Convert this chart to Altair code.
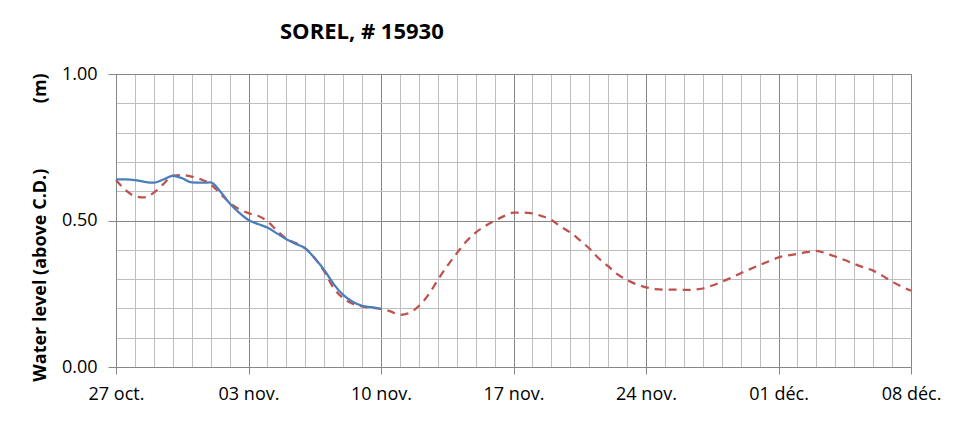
import json
import altair as alt
import pandas as pd

# ---- data ----
x_labels = ["27 oct.", "03 nov.", "10 nov.", "17 nov.", "24 nov.", "01 déc.", "08 déc."]

observed_days = [i * 0.5 for i in range(29)]          # 27 oct. .. 10 nov.
observed_values = [0.640, 0.640, 0.638, 0.632, 0.629, 0.640, 0.652, 0.644, 0.630,
                   0.629, 0.630, 0.600, 0.559, 0.527, 0.502, 0.488, 0.476, 0.456,
                   0.436, 0.420, 0.405, 0.371, 0.331, 0.283, 0.246, 0.223, 0.209,
                   0.204, 0.199]

predicted_days = [i * 0.5 for i in range(85)]         # 27 oct. .. 08 déc.
predicted_values = [0.638, 0.604, 0.583, 0.579, 0.595, 0.624, 0.653, 0.655, 0.650,
                    0.640, 0.624, 0.592, 0.561, 0.539, 0.525, 0.516, 0.497, 0.466,
                    0.438, 0.423, 0.405, 0.371, 0.326, 0.269, 0.235, 0.216, 0.207,
                    0.202, 0.198, 0.190, 0.178, 0.185, 0.208, 0.246, 0.297, 0.345,
                    0.388, 0.428, 0.459, 0.481, 0.499, 0.515, 0.527, 0.527, 0.524,
                    0.515, 0.502, 0.479, 0.459, 0.433, 0.405, 0.371, 0.344, 0.316,
                    0.297, 0.282, 0.272, 0.266, 0.264, 0.264, 0.263, 0.264, 0.268,
                    0.278, 0.291, 0.305, 0.320, 0.334, 0.348, 0.361, 0.374, 0.381,
                    0.386, 0.392, 0.396, 0.388, 0.377, 0.365, 0.352, 0.340, 0.329,
                    0.311, 0.291, 0.275, 0.260]

x_grid_values = list(range(43))
y_grid_values = [0.0, 0.1, 0.2, 0.3, 0.4, 0.5, 0.6, 0.7, 0.8, 0.9, 1.0]

obs = pd.DataFrame({"day": observed_days, "level": observed_values})
pred = pd.DataFrame({"day": predicted_days, "level": predicted_values})

MAJOR = "#868686"
MINOR = "#BEBEBE"
FONT = "Open Sans"

x_major = "datum.value % 7 === 0"
y_major = "round(datum.value * 10) % 5 === 0"

x_enc = alt.X(
    "day:Q",
    scale=alt.Scale(domain=[0, 42], nice=False, zero=False),
    axis=alt.Axis(
        title=None,
        values=x_grid_values,
        labelExpr=f"{x_major} ? {json.dumps(x_labels, ensure_ascii=False)}[datum.value / 7] : ''",
        gridColor={"condition": {"test": x_major, "value": MAJOR}, "value": MINOR},
        tickOpacity={"condition": {"test": x_major, "value": 1}, "value": 0},
        tickSize=7,
        tickColor=MAJOR,
        domainColor=MAJOR,
        labelPadding=11,
        labelFont=FONT,
        labelFontSize=18,
        labelColor="#000000",
        labelOverlap=False,
        labelFlush=False,
    ),
)

y_enc = alt.Y(
    "level:Q",
    scale=alt.Scale(domain=[0, 1], nice=False),
    axis=alt.Axis(
        title="Water level (above C.D.)" + "\u00a0" * 14 + "(m)",
        values=y_grid_values,
        labelExpr=f"{y_major} ? format(datum.value, '.2f') : ''",
        gridColor={"condition": {"test": y_major, "value": MAJOR}, "value": MINOR},
        tickOpacity={"condition": {"test": y_major, "value": 1}, "value": 0},
        tickSize=8,
        tickColor=MAJOR,
        domainColor=MAJOR,
        labelPadding=11,
        labelFont=FONT,
        labelFontSize=18,
        labelColor="#000000",
        labelOverlap=False,
        titleFont=FONT,
        titleFontSize=18,
        titleFontWeight="bold",
        titleColor="#000000",
        titleAngle=270,
        titleAlign="center",
        titleBaseline="middle",
        titleX=-76,
        titleY=153,
    ),
)

predicted = alt.Chart(pred).mark_line(
    color="#C0504D", strokeWidth=2.25, strokeDash=[8, 6], interpolate="monotone"
).encode(x=x_enc, y=y_enc)

observed = alt.Chart(obs).mark_line(
    color="#4A7EBB", strokeWidth=2.25, interpolate="monotone"
).encode(x=x_enc, y=y_enc)

chart = (
    alt.layer(predicted, observed)
    .properties(
        width=795,
        height=293,
        autosize=alt.AutoSizeParams(type="none"),
        padding={"left": 108, "top": 66, "right": 50, "bottom": 40},
        title=alt.TitleParams(
            "SOREL, # 15930",
            anchor="start",
            frame="group",
            dx=164,
            offset=21,
            font=FONT,
            fontSize=22,
            fontWeight="bold",
            color="#000000",
        ),
    )
    .configure_view(stroke=None)
    .configure(background="white")
)

chart.save("out.html", embed_options={"renderer": "svg", "actions": False})
